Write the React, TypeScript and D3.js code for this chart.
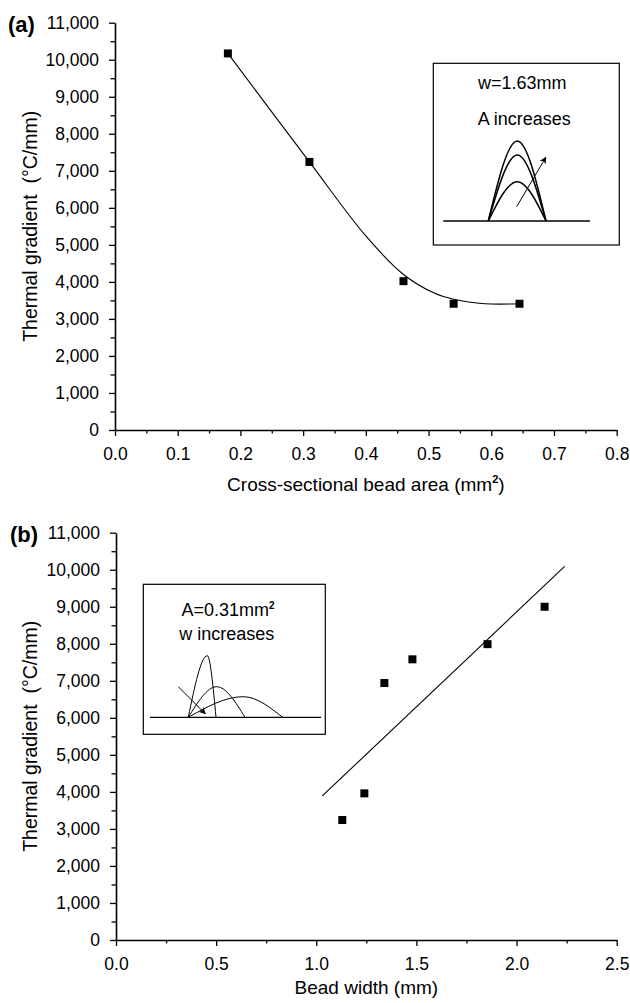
import React, { useRef, useEffect } from 'react'
import * as d3 from 'd3'

const FONT = '"Liberation Sans", Arial, Helvetica, sans-serif'

// shared y axis (thermal gradient, °C/mm)
const gradTicks = [0, 1000, 2000, 3000, 4000, 5000, 6000, 7000, 8000, 9000, 10000, 11000]
const gradMinor = [500, 1500, 2500, 3500, 4500, 5500, 6500, 7500, 8500, 9500, 10500]

// panel (a): cross-sectional bead area
const areaTicks = [0, 0.1, 0.2, 0.3, 0.4, 0.5, 0.6, 0.7, 0.8]
const areaMinor = [0.05, 0.15, 0.25, 0.35, 0.45, 0.55, 0.65, 0.75]
const areaX = [0.18, 0.31, 0.46, 0.54, 0.645]
const areaGrad = [10170, 7240, 4020, 3410, 3410]
const areaFitX = [0.18, 0.31, 0.40, 0.46, 0.51, 0.54, 0.59, 0.645]
const areaFitY = [10170, 7240, 5240, 4200, 3690, 3530, 3410, 3410]

// panel (b): bead width
const widthTicks = [0, 0.5, 1.0, 1.5, 2.0, 2.5]
const widthMinor = [0.25, 0.75, 1.25, 1.75, 2.25]
const widthX = [1.13, 1.24, 1.34, 1.48, 1.855, 2.14]
const widthGrad = [3240, 3960, 6940, 7580, 7990, 9000]
const widthFitX = [1.03, 2.24]
const widthFitY = [3890, 10090]

function insetA(g) {
  // schematic: fixed width, area grows -> taller arches
  g.append('rect').attr('width', 186).attr('height', 181.7).attr('fill', '#fff').attr('stroke', '#000').attr('stroke-width', 1.2)
  g.append('text').attr('x', 89).attr('y', 26).attr('text-anchor', 'middle').text('w=1.63mm')
  g.append('text').attr('x', 91).attr('y', 61.7).attr('text-anchor', 'middle').text('A increases')
  g.append('line').attr('x1', 10).attr('x2', 156.7).attr('y1', 157.7).attr('y2', 157.7).attr('stroke', '#000').attr('stroke-width', 1.5)
  const arch = d3.line().curve(d3.curveMonotoneX)
  ;[77.7, 91.7, 118.4].forEach(top => {
    g.append('path').attr('d', arch([[55, 157.7], [84, top], [112.7, 157.7]])).attr('fill', 'none').attr('stroke', '#000').attr('stroke-width', 1.5)
  })
  g.append('line').attr('x1', 83.4).attr('y1', 143.4).attr('x2', 112.5).attr('y2', 94).attr('stroke', '#000').attr('stroke-width', 1).attr('marker-end', 'url(#arrowHead)')
  g.selectAll('text').attr('font-size', 18).attr('font-family', FONT)
}

function insetB(g) {
  // schematic: fixed area, width grows -> flatter arches
  g.append('rect').attr('width', 182).attr('height', 150).attr('fill', '#fff').attr('stroke', '#000').attr('stroke-width', 1.2)
  const t1 = g.append('text').attr('x', 84.7).attr('y', 31.7).attr('text-anchor', 'middle')
  t1.append('tspan').text('A=0.31mm')
  t1.append('tspan').attr('dy', -7).attr('font-size', 10).attr('font-weight', 'bold').text('2')
  g.append('text').attr('x', 83.4).attr('y', 55.7).attr('text-anchor', 'middle').text('w increases')
  g.append('line').attr('x1', 6.7).attr('x2', 177.7).attr('y1', 133).attr('y2', 133).attr('stroke', '#000').attr('stroke-width', 1.3)
  const arch = d3.line().curve(d3.curveMonotoneX)
  ;[[64, 71.4, 72.7], [73.4, 102.4, 101.7], [100, 112.4, 139.4]].forEach(([px, py, end]) => {
    g.append('path').attr('d', arch([[45, 133], [px, py], [end, 133]])).attr('fill', 'none').attr('stroke', '#000').attr('stroke-width', 1)
  })
  g.append('line').attr('x1', 35).attr('y1', 102.4).attr('x2', 62).attr('y2', 129.5).attr('stroke', '#000').attr('stroke-width', 1).attr('marker-end', 'url(#arrowHead)')
  g.selectAll('text').attr('font-size', 18).attr('font-family', FONT)
}

function Panel({ cfg }) {
  const ref = useRef(null)

  useEffect(() => {
    const g = d3.select(ref.current)
    g.selectAll('*').remove()
    const { left, top, right, bottom } = cfg.frame

    const x = d3.scaleLinear().domain(cfg.xDomain).range([left, right])
    const y = d3.scaleLinear().domain([0, 11000]).range([bottom, top])

    g.append('g').attr('transform', `translate(0,${bottom})`)
      .call(d3.axisBottom(x).tickValues(cfg.xMinor).tickFormat(() => '').tickSize(3.5).tickSizeOuter(0))
      .call(s => s.select('.domain').remove())
    g.append('g').attr('transform', `translate(${left},0)`)
      .call(d3.axisLeft(y).tickValues(gradMinor).tickFormat(() => '').tickSize(4.5).tickSizeOuter(0))
      .call(s => s.select('.domain').remove())
    g.append('g').attr('transform', `translate(0,${bottom})`)
      .call(d3.axisBottom(x).tickValues(cfg.xMajor).tickFormat(d3.format('.1f')).tickSize(6).tickPadding(11.5).tickSizeOuter(0))
    g.append('g').attr('transform', `translate(${left},0)`)
      .call(d3.axisLeft(y).tickValues(gradTicks).tickFormat(d3.format(',')).tickSize(6).tickPadding(10).tickSizeOuter(0))

    g.selectAll('.domain').attr('stroke-width', 1.6)
    g.selectAll('.tick line').attr('stroke-width', 1.3)
    g.selectAll('.tick text').attr('font-size', 17.5).attr('font-family', FONT).attr('fill', '#000')

    // fit
    const fitPts = cfg.fitX.map((v, i) => [x(v), y(cfg.fitY[i])])
    g.append('path').attr('d', d3.line().curve(cfg.curve)(fitPts))
      .attr('fill', 'none').attr('stroke', '#000').attr('stroke-width', 1.1)

    // points
    g.append('g').selectAll('rect').data(cfg.px).join('rect')
      .attr('x', d => x(d) - 4).attr('y', (d, i) => y(cfg.py[i]) - 4)
      .attr('width', 8).attr('height', 8).attr('fill', '#000')

    cfg.inset(g.append('g').attr('transform', `translate(${cfg.insetAt[0]},${cfg.insetAt[1]})`))

    // titles
    g.append('text').attr('transform', `translate(37,${(top + bottom) / 2}) rotate(-90)`)
      .attr('text-anchor', 'middle').attr('font-size', 19.5).attr('font-family', FONT)
      .text('Thermal gradient\u00a0\u00a0(°C/mm)')
    const xt = g.append('text').attr('x', (left + right) / 2).attr('y', bottom + cfg.titleGap)
      .attr('text-anchor', 'middle').attr('font-size', 19).attr('font-family', FONT)
    xt.append('tspan').text(cfg.xTitle)
    if (cfg.sup) {
      xt.append('tspan').attr('dy', -8).attr('font-size', 11).attr('font-weight', 'bold').text('2')
      xt.append('tspan').attr('dy', 8).text(')')
    }
    g.append('text').attr('x', cfg.labelX).attr('y', top + 9).attr('font-size', 22).attr('font-weight', 'bold')
      .attr('font-family', FONT).text(cfg.label)
  }, [cfg])

  return <g ref={ref} />
}

const panelA = {
  frame: { left: 115, top: 22.7, right: 616.7, bottom: 430 },
  xDomain: [0, 0.8], xMajor: areaTicks, xMinor: areaMinor,
  px: areaX, py: areaGrad, fitX: areaFitX, fitY: areaFitY, curve: d3.curveCatmullRom.alpha(0.5),
  xTitle: 'Cross-sectional bead area (mm', sup: true, titleGap: 61, label: '(a)', labelX: 8,
  inset: insetA, insetAt: [433.3, 63.3],
}

const panelB = {
  frame: { left: 116, top: 532.7, right: 616.7, bottom: 940 },
  xDomain: [0, 2.5], xMajor: widthTicks, xMinor: widthMinor,
  px: widthX, py: widthGrad, fitX: widthFitX, fitY: widthFitY, curve: d3.curveLinear,
  xTitle: 'Bead width (mm)', sup: false, titleGap: 54, label: '(b)', labelX: 10,
  inset: insetB, insetAt: [143.3, 584.3],
}

export default function App() {
  return (
    <svg width={630} height={1003} style={{ position: 'absolute', left: 0, top: 0, background: '#fff' }}>
      <defs>
        <marker id="arrowHead" viewBox="0 0 10 10" refX="9" refY="5" markerWidth="7" markerHeight="7" orient="auto" markerUnits="userSpaceOnUse">
          <path d="M0,0 L10,5 L0,10 L3,5 z" fill="#000" />
        </marker>
      </defs>
      <Panel cfg={panelA} />
      <Panel cfg={panelB} />
    </svg>
  )
}
